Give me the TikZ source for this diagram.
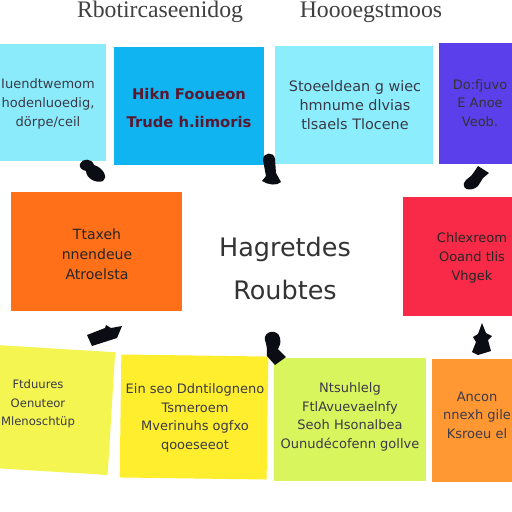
\documentclass[tikz,border=0pt]{standalone}
\usepackage{fontspec}
\setmainfont{DejaVu Sans}
\newfontfamily\headfont{Liberation Serif}
\usetikzlibrary{positioning}
\definecolor{skyA}{HTML}{8BEBFB}
\definecolor{skyB}{HTML}{0FB4F0}
\definecolor{skyC}{HTML}{8CEEFC}
\definecolor{violetD}{HTML}{5A3FEA}
\definecolor{orangeE}{HTML}{FF7018}
\definecolor{redF}{HTML}{F92A48}
\definecolor{yellowG}{HTML}{F4F550}
\definecolor{yellowH}{HTML}{FFEE2E}
\definecolor{limeI}{HTML}{D8F55E}
\definecolor{orangeJ}{HTML}{FF9733}
\definecolor{inkgrey}{HTML}{3A3A48}
\definecolor{inkmaroon}{HTML}{5A1830}
\definecolor{blobink}{HTML}{0C0C14}

\begin{document}
\begin{tikzpicture}[
  x=0.02cm, y=-0.02cm,
  note/.style={rectangle, inner sep=0pt},
  notetext/.style={align=center, inner sep=0pt, text=inkgrey, font=\fontsize{7.4}{10.6}\selectfont},
  centertext/.style={align=center, inner sep=0pt, text=black!80, font=\fontsize{14.5}{24.5}\selectfont},
  headtext/.style={inner sep=0pt, text=black!75, font=\headfont\fontsize{13.5}{14}\selectfont},
  blob/.style={fill=blobink, draw=none}
]
  \useasboundingbox (0,0) rectangle (512,512);
  \fill[white] (0,0) rectangle (512,512);

  % title
  \node[headtext] (headL) at (160,12) {Rbotircaseenidog};
  \node[headtext] (headR) at (371,12) {Hoooegstmoos};

  % top row
  \node[note, fill=skyA, minimum width=2.4cm, minimum height=2.34cm] (boxA) at (46,102.5) {};
  \node[note, fill=skyB, minimum width=3cm, minimum height=2.36cm] (boxB) at (189,106) {};
  \node[note, fill=skyC, minimum width=3.16cm, minimum height=2.36cm] (boxC) at (354,105) {};
  \node[note, fill=violetD, minimum width=1.7cm, minimum height=2.42cm] (boxD) at (481,103.5) {};
  \node[notetext] (textA) at (48,104) {Iuendtwemom\\hodenluoedig,\\dörpe/ceil};
  \node[notetext, text=inkmaroon, font=\bfseries\fontsize{8.4}{15.5}\selectfont] (textB) at (189,108) {Hikn Fooueon\\Trude h.iimoris};
  \node[notetext, font=\fontsize{8.2}{10.6}\selectfont] (textC) at (355,105) {Stoeeldean g wiec\\hmnume dlvias\\tlsaels Tlocene};
  \node[notetext, text=black!80] (textD) at (480,103) {Do:fjuvo\\E Anoe\\Veob.};

  % middle row
  \node[note, fill=orangeE, minimum width=3.42cm, minimum height=2.38cm] (boxE) at (96.5,251.5) {};
  \node[note, fill=redF, minimum width=2.4cm, minimum height=2.38cm] (boxF) at (463,256.5) {};
  \node[notetext, text=black!85, font=\fontsize{8}{11.4}\selectfont] (textE) at (97,254) {Ttaxeh\\nnendeue\\Atroelsta};
  \node[centertext] (textMid) at (285,268.5) {Hagretdes\\Roubtes};
  \node[notetext, text=black!85] (textF) at (472,258) {Chlexreom\\Ooand tlis\\Vhgek};

  % bottom row
  \node[note, fill=yellowG, rotate=-3.5, minimum width=2.38cm, minimum height=2.46cm] (boxG) at (52,410) {};
  \node[note, fill=yellowH, rotate=-0.8, minimum width=2.94cm, minimum height=2.46cm] (boxH) at (194,417) {};
  \node[note, fill=limeI, minimum width=3.04cm, minimum height=2.46cm] (boxI) at (350,419.5) {};
  \node[note, fill=orangeJ, minimum width=1.8cm, minimum height=2.46cm] (boxJ) at (477,420.5) {};
  \node[notetext, font=\fontsize{6.6}{10.6}\selectfont] (textG) at (38,404) {Ftduures\\Oenuteor\\Mlenoschtüp};
  \node[notetext] (textH) at (195,418) {Ein seo Ddntilogneno\\Tsmeroem\\Mverinuhs ogfxo\\qooeseeot};
  \node[notetext] (textI) at (350,417) {Ntsuhlelg\\FtlAvuevaelnfy\\Seoh Hsonalbea\\Ounudécofenn gollve};
  \node[notetext] (textJ) at (477,415) {Ancon\\nnexh gile\\Ksroeu el};

  % pointers
  \fill[blob] (80,164) .. controls (82,158) and (92,158) .. (94,165) .. controls (104,168) and (108,178) .. (103,181) .. controls (96,184) and (86,178) .. (86,171) .. controls (82,170) and (79,168) .. (80,164) -- cycle;
  \fill[blob] (263,160) .. controls (263,152) and (274,151) .. (275,159) -- (276,173) -- (281,182) .. controls (277,186) and (268,185) .. (262,181) -- (266,176) -- cycle;
  \fill[blob] (464,183) .. controls (466,178) and (471,178) .. (474,172) -- (478,166) -- (489,173) -- (483,178) -- (478,186) .. controls (473,191) and (462,191) .. (464,183) -- cycle;
  \fill[blob] (87,335) -- (105,328) -- (106,325) -- (111,328) -- (122,326) -- (117,338) -- (92,346) -- cycle;
  \fill[blob] (265,340) .. controls (263,331) and (278,328) .. (280,338) .. controls (281,343) and (280,346) .. (278,349) -- (286,357) -- (275,365) -- (267,356) .. controls (267,349) and (267,346) .. (265,340) -- cycle;
  \fill[blob] (473,337) -- (478,334) -- (482,323) -- (486,333) -- (492,336) -- (488,340) -- (491,351) -- (478,355) -- (472,352) -- (476,342) -- cycle;
\end{tikzpicture}
\end{document}
